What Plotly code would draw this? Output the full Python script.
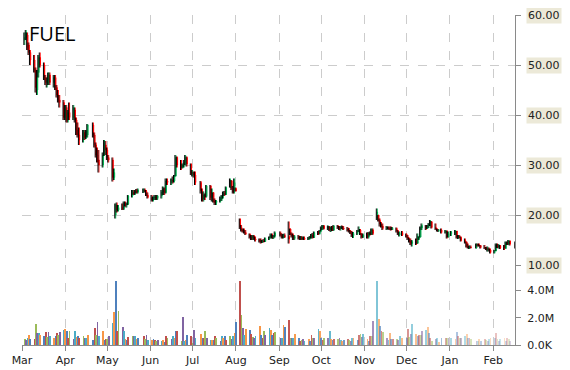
import pandas as pd
import plotly.graph_objects as go

ticker = "FUEL"
holidays = ["2014-04-18", "2014-05-26", "2014-07-04", "2014-09-01", "2014-11-27",
            "2014-12-25", "2015-01-01", "2015-01-19", "2015-02-16"]
dates = pd.bdate_range("2014-03-03", "2015-02-17", freq="C", holidays=holidays)

opens = [
    55, 55.5, 56, 54, 52.5, 51, 49, 45, 48.5, 51.5, 50, 47.5, 46.5, 47, 48, 46.5, 47.5, 45.5, 44, 43, 42.5,
    39.5, 41.5, 39, 40.5, 39.5, 41, 39, 37, 36, 35, 36.5, 35.5, 36, 38, 36, 34, 32, 31, 30, 32, 34,
    33, 31.5, 31, 27.5, 20, 22, 21, 21.5, 21.3, 22.3, 22, 22.2, 23.8, 24.5, 24.3, 24.8, 24.6, 24.7, 25, 24.7, 24,
    23.5, 23, 23.4, 23.6, 23.3, 23.8, 24.6, 25.2, 24.5, 26.8, 26.5, 27, 26.8, 27.8, 31.5, 30, 29.5, 30, 30.5, 31.5, 30.2,
    28.3, 28.5, 28, 26.5, 24.8, 23.2, 24, 23.7, 25.8, 23.5, 24.5, 22.8, 22.5, 22.8, 23.2, 23.8, 24.3, 24.1, 25.5, 26.8, 25.3, 25,
    25.3, 19.2, 17.5, 17, 16.8, 16.5, 16.2, 15.5, 15.4, 15.8, 15.2, 15, 14.8, 14.6, 14.8, 14.7, 15.3, 15.6, 16, 15.5, 15.8,
    16.4, 16, 15.5, 15.9, 15.7, 17.2, 16.2, 15.8, 15.3, 15.7, 15.3, 15.5, 15.2, 15.4, 15.1, 15.4, 15.6, 16, 15.5, 16.5, 16.3,
    16.8, 17.4, 17.8, 17.3, 17.6, 17, 17.5, 17, 17.8, 17.5, 17.3, 17.6, 17.4, 17.2, 17, 16.8, 16.4, 15.9, 16.3, 16.8, 17, 16.2, 15.6,
    16, 15.6, 16.4, 16.2, 17, 19.3, 20, 18.9, 18.2, 17.8, 17.3, 17.5, 17.3, 17.2, 17.1, 17.3, 16.8, 16, 16.5,
    16.2, 15.6, 15.3, 14.8, 14.3, 14.7, 14.4, 15.2, 15.6, 17.4, 17.9, 17.3, 17.8, 18.2, 18.6, 17.5, 17.2, 16.9, 17, 16.5, 16.8, 15.6,
    16.3, 16.5, 16.8, 15.5, 15.7, 15.5, 14.9, 14.6, 13.7, 13.5, 13.6, 13.4, 14.1, 14, 13.9, 13.5, 13.4, 13.1, 13.2, 13,
    12.5, 12.8, 14, 13.6, 13.9, 13.4, 13.3, 14.5, 14.3, 14.8, 14.4,
]
highs = [
    56.5, 57, 56.5, 54.5, 53, 52, 49.5, 49, 52, 52.5, 50.5, 48, 47.5, 48.5, 48.5, 48, 48, 46, 45, 44, 43,
    42, 42, 41, 42.5, 42, 41.5, 39.5, 38.5, 37.5, 37, 37, 37, 38.2, 38.5, 36.5, 34.5, 33.5, 33, 32.5, 35, 34.8,
    33.5, 32, 31.5, 29.3, 22.3, 22.5, 22, 22.3, 22.7, 22.7, 22.5, 24, 25, 25, 25, 25.2, 25.3, 25.3, 25.3, 25, 24.5,
    24, 23.7, 24, 24, 24, 25, 25.7, 25.5, 27.3, 27.3, 27.3, 27.7, 28, 32, 31.7, 31, 30.3, 31, 32, 31.7, 30.3,
    29, 28.7, 28.7, 26.8, 25.3, 24.7, 24.3, 26, 26, 25.3, 24.5, 23.3, 23, 23.7, 24, 24.7, 24.8, 25.7, 27.3, 27, 25.8, 27.3,
    25.5, 19.3, 18, 17.3, 17.3, 17, 16.3, 16, 16, 16, 15.7, 15.3, 15.3, 15, 15.2, 15.5, 15.7, 16.3, 16.3, 16, 16.7,
    16.7, 16.3, 16.2, 16.3, 18.7, 17.3, 16.5, 16.3, 16, 16, 15.8, 15.8, 15.7, 15.7, 15.6, 15.8, 16.2, 16.4, 16.7, 16.8, 17,
    17.7, 18, 18, 17.9, 17.8, 17.7, 17.8, 18, 18, 17.8, 17.8, 17.9, 17.8, 17.6, 17.4, 17, 16.8, 16.6, 17, 17.7, 17.2, 16.4, 16.3,
    16.5, 16.6, 16.7, 17.3, 17.3, 21.3, 20, 19.3, 18.6, 18.3, 17.8, 17.7, 17.7, 17.7, 17.6, 17.5, 17, 16.7, 16.8,
    16.3, 16, 15.5, 15.3, 15, 15.3, 16.3, 15.7, 17.7, 18.3, 18, 18, 18.4, 19, 18.8, 18.3, 17.3, 17.2, 17.3, 17, 16.9, 16.7,
    16.8, 17, 16.8, 16, 16, 15.7, 15.3, 14.7, 14.3, 13.9, 13.9, 14.3, 14.3, 14.3, 14, 14, 13.6, 13.7, 13.5, 13.3,
    13, 14.3, 14.3, 14.2, 14, 14, 14.7, 14.7, 15, 14.9, 14.7,
]
lows = [
    54, 55, 53, 52, 50, 48.5, 44.5, 44, 47.5, 49.5, 47, 46, 45.5, 46, 46, 45.5, 45, 43.5, 42.5, 41.5, 39,
    39, 38.5, 38.5, 39, 39, 38.5, 36, 35.5, 34, 34.5, 35, 35.2, 35.5, 35.5, 33.5, 31.5, 30.5, 28.5, 29.5, 31.8, 32,
    31, 30.5, 26.7, 27, 19.3, 20.5, 20.7, 21, 21, 21.7, 21.5, 22, 23.5, 24, 24, 24.3, 24.3, 24.4, 24.5, 23.8, 23.3,
    22.7, 22.7, 23, 23, 23, 23.3, 24, 24, 24.3, 26, 26, 26.3, 26.5, 27.7, 29.5, 29, 29.3, 29.5, 30, 29.7, 28,
    27.7, 27.5, 26, 24.3, 22.7, 22.7, 23, 23.5, 23, 22.7, 22.5, 22, 22, 22.5, 22.8, 23.3, 23.8, 24, 25.5, 25, 24.3, 24.3,
    24.7, 17.2, 16.7, 16.5, 16.3, 16, 15.3, 15, 15, 15, 14.7, 14.5, 14.3, 14.4, 14.5, 14.6, 15, 15.3, 15.3, 15.2, 15.5,
    15.7, 15.3, 15.3, 15.4, 14.3, 16, 15.5, 15, 15, 15.1, 15, 15, 15, 15, 15, 15.1, 15.3, 15.3, 15.4, 16, 16.1,
    16.7, 17, 17.1, 17, 16.8, 16.6, 16.8, 16.8, 17.2, 17, 16.9, 17.2, 17, 16.7, 16.5, 16.2, 15.6, 15.4, 16, 16.6, 16, 15.3, 15.4,
    15.3, 15.3, 15.9, 16, 16, 19, 18.7, 17.7, 17.5, 17, 17, 17.1, 17, 16.9, 17, 16.5, 16, 15.7, 15.8,
    15.5, 15, 14.5, 14, 13.7, 14, 14.2, 15, 15.5, 17, 17, 17.2, 17.4, 17.8, 17.3, 17, 16.7, 16.6, 16.3, 16.3, 15.3, 15.5,
    15.8, 16, 15.3, 15.2, 15.3, 14.7, 14.3, 13.5, 13.3, 13.2, 13.3, 13.3, 13.7, 13.7, 13.3, 13.2, 13, 12.7, 12.7, 12.3,
    12.3, 12.8, 13.4, 13.3, 13.2, 13, 13.3, 14, 14, 13.9, 13.3,
]
closes = [
    55.5, 56.5, 53.5, 52.5, 51, 49, 45.5, 48.5, 51.5, 50, 47.5, 46.5, 47, 48, 46.5, 47.5, 45.5, 44, 43, 42.5, 39.5,
    41.5, 39, 40.5, 39.5, 41.5, 39, 37, 36, 35, 36.5, 35.5, 36.8, 38, 36, 34, 32, 31, 30, 32, 34.5, 33,
    31.5, 31, 27.5, 28.5, 22, 21, 21.5, 21.3, 22.3, 22, 22.2, 23.8, 24.5, 24.3, 24.8, 24.6, 25, 25.1, 24.7, 24, 23.5,
    23, 23.4, 23.6, 23.3, 23.8, 24.6, 25.2, 24.5, 26.8, 26.5, 27, 26.8, 27.8, 31.5, 30, 29.5, 30, 30.5, 31.5, 30.2, 28.3,
    28.5, 28, 26.5, 24.8, 23.2, 24, 23.7, 25.8, 23.5, 24.5, 22.8, 22.5, 22.8, 23.2, 23.8, 24.3, 24.1, 25.5, 26.8, 25.3, 24.6, 26.5,
    24.8, 17.5, 17, 16.8, 16.5, 16.2, 15.5, 15.4, 15.8, 15.2, 15, 14.8, 14.6, 14.8, 14.7, 15.3, 15.6, 16, 15.5, 15.8, 16.4,
    16, 15.5, 15.9, 15.7, 15.2, 16.2, 15.8, 15.3, 15.7, 15.3, 15.5, 15.2, 15.4, 15.1, 15.4, 15.6, 16, 15.5, 16.5, 16.3, 16.8,
    17.4, 17.8, 17.3, 17.6, 17, 17.5, 17, 17.8, 17.5, 17.3, 17.6, 17.4, 17.2, 17, 16.8, 16.4, 15.9, 16.3, 16.8, 17, 16.2, 15.6, 16,
    15.6, 16.4, 16.2, 17, 16.3, 20.6, 18.9, 18.2, 17.8, 17.3, 17.5, 17.3, 17.2, 17.1, 17.3, 16.8, 16.2, 16.5, 16,
    15.6, 15.3, 14.8, 14.3, 14.7, 14.4, 15.8, 15.6, 17.4, 17.9, 17.3, 17.8, 18.2, 18.6, 17.5, 17.2, 16.9, 17, 16.5, 16.8, 15.6, 16.3,
    16.5, 16.8, 15.5, 15.7, 15.5, 14.9, 14.6, 13.7, 13.5, 13.6, 13.5, 14.1, 14, 13.9, 13.5, 13.4, 13.1, 13.2, 13, 12.5,
    12.8, 14, 13.6, 13.9, 13.4, 13.3, 14.5, 14.3, 14.8, 14.2, 13.6,
]
volumes_m = [
    0.45, 0.35, 0.5, 0.75, 0.45, 0.45, 1.55, 0.9, 0.85, 0.7, 0.68, 0.92, 0.6, 0.92, 0.63, 0.55, 0.63, 0.87, 0.7, 0.95, 1.1,
    1.16, 1.0, 0.55, 1.0, 0.44, 1.0, 0.58, 0.63, 0.5, 0.63, 0.55, 0.53, 0.75, 0.34, 1.26, 0.75, 1.72, 0.68, 1.0, 0.39, 0.45,
    0.44, 0.63, 1.6, 2.4, 4.68, 1.0, 2.5, 1.3, 1.0, 0.44, 0.39, 0.58, 0.63, 0.68, 0.63, 0.45, 0.5, 0.63, 0.44, 0.75, 0.39,
    0.39, 0.44, 0.34, 0.27, 0.34, 0.27, 0.39, 0.2, 0.63, 0.5, 0.44, 0.63, 0.55, 1.0, 1.0, 0.27, 2.08, 0.3, 0.39, 0.75, 0.63,
    0.15, 1.1, 0.5, 0.83, 0.5, 0.5, 1.0, 0.5, 0.39, 0.34, 0.34, 0.63, 0.5, 0.3, 0.63, 0.5, 0.63, 0.39, 0.63, 0.45, 0.63, 0.87,
    1.72, 4.68, 2.2, 1.24, 0.75, 1.16, 1.11, 0.83, 0.6, 0.5, 0.63, 1.4, 0.75, 0.55, 1.0, 0.75, 1.24, 1.11, 0.7, 0.87, 0.92,
    0.5, 0.55, 1.45, 1.36, 1.84, 0.55, 0.5, 0.55, 0.8, 0.55, 0.3, 0.39, 0.44, 0.3, 0.44, 0.3, 0.73, 0.55, 0.5, 1.16, 1.04,
    0.55, 0.35, 0.55, 0.55, 1.04, 0.44, 0.35, 0.44, 0.44, 0.5, 0.39, 0.3, 0.35, 0.44, 0.39, 0.3, 0.55, 0.55, 0.4, 0.73, 0.8, 0.6, 0.8,
    0.44, 0.3, 0.68, 0.68, 1.77, 4.73, 1.9, 1.4, 1.04, 0.92, 0.55, 0.4, 0.87, 0.44, 0.44, 0.44, 0.35, 0.68, 0.55,
    0.55, 1.16, 0.6, 0.8, 1.53, 0.8, 0.68, 0.73, 0.73, 1.04, 1.09, 1.36, 0.9, 0.5, 0.3, 0.44, 0.55, 0.2, 0.55, 0.55, 0.55, 0.5,
    0.55, 0.44, 0.92, 0.68, 0.55, 0.55, 0.68, 0.8, 0.48, 0.55, 0.44, 0.3, 0.3, 0.44, 0.3, 0.44, 0.35, 0.3, 0.44, 0.5,
    0.55, 0.87, 0.44, 0.3, 0.44, 0.55, 0.3, 0.55, 0.45, 0.3, 0.55,
]

month_ticks = ["2014-03-01", "2014-04-01", "2014-05-01", "2014-06-01", "2014-07-01", "2014-08-01",
               "2014-09-01", "2014-10-01", "2014-11-01", "2014-12-01", "2015-01-01", "2015-02-01"]
month_labels = ["Mar", "Apr", "May", "Jun", "Jul", "Aug", "Sep", "Oct", "Nov", "Dec", "Jan", "Feb"]
price_ticks = [10, 20, 30, 40, 50, 60]
price_labels = ["10.00", "20.00", "30.00", "40.00", "50.00", "60.00"]
vol_ticks = [0, 2, 4]
vol_labels = ["0.0K", "2.0M", "4.0M"]

n = len(dates)
assert len(opens) == n and len(highs) == n and len(lows) == n and len(closes) == n and len(volumes_m) == n, \
    (n, len(opens), len(highs), len(lows), len(closes), len(volumes_m))

palette = ["#4F81BD", "#C0504D", "#9BBB59", "#8064A2", "#4BACC6", "#F79646"]
bar_colors = [palette[(i + 2) % 6] for i in range(n)]
fade_start = pd.Timestamp("2014-09-01")
fade_end = dates[-1]
bar_opacity = []
for d in dates:
    if d < fade_start:
        bar_opacity.append(1.0)
    else:
        t = (d - fade_start) / (fade_end - fade_start)
        bar_opacity.append(1.0 - 0.72 * t)

GREEN = "#00B050"
RED = "#FF0000"
GRID = "#cccccc"
AXIS = "#8a8a8a"
FONT = "DejaVu Sans"
day_ms = 86400000
# black high-low wick drawn just left of the coloured body
wick_dates = dates - pd.Timedelta(hours=16)

fig = go.Figure()
fig.add_trace(go.Candlestick(
    x=dates, open=opens, high=highs, low=lows, close=closes,
    increasing=dict(line=dict(color=GREEN, width=1), fillcolor=GREEN),
    decreasing=dict(line=dict(color=RED, width=1), fillcolor=RED),
    whiskerwidth=0, showlegend=False, hoverinfo="skip", xaxis="x", yaxis="y"))
fig.add_trace(go.Ohlc(
    x=wick_dates, open=opens, high=highs, low=lows, close=closes,
    increasing=dict(line=dict(color="#000000", width=1)),
    decreasing=dict(line=dict(color="#000000", width=1)),
    tickwidth=0, showlegend=False, hoverinfo="skip", xaxis="x", yaxis="y"))
fig.add_trace(go.Bar(
    x=dates, y=volumes_m, width=day_ms * 0.6,
    marker=dict(color=bar_colors, opacity=bar_opacity, line=dict(width=0)),
    showlegend=False, hoverinfo="skip", xaxis="x", yaxis="y2"))

# page body has an 8px default margin; figure sized so the plot lands where the reference has it
split = 80 / 330
fig.update_layout(
    width=562, height=362,
    margin=dict(l=14, r=55, t=7, b=25, autoexpand=False),
    paper_bgcolor="white", plot_bgcolor="white",
    showlegend=False, bargap=0,
    font=dict(family=FONT, size=11, color="#222222"),
    xaxis=dict(
        type="date", range=["2014-03-01", "2015-02-16 12:00"],
        tickvals=month_ticks, ticktext=month_labels,
        showgrid=True, gridcolor=GRID, griddash="dash", gridwidth=1,
        showline=True, linecolor=AXIS, linewidth=1,
        ticks="outside", ticklen=5, tickcolor=AXIS,
        tickfont=dict(family=FONT, size=11, color="#222222"),
        anchor="y2", zeroline=False, rangeslider=dict(visible=False)),
    yaxis=dict(
        domain=[split, 1], range=[10, 60], side="right",
        tickvals=price_ticks, showticklabels=False,
        showgrid=True, gridcolor=GRID, griddash="dash", gridwidth=1,
        showline=True, linecolor=AXIS, linewidth=1,
        ticks="outside", ticklen=5, tickcolor=AXIS,
        zeroline=False, anchor="x"),
    yaxis2=dict(
        domain=[0, split], range=[0, 80 / 13.6], side="right",
        tickvals=vol_ticks, ticktext=vol_labels,
        showgrid=False, showline=True, linecolor=AXIS, linewidth=1,
        ticks="outside", ticklen=5, tickcolor=AXIS, ticklabelstandoff=4,
        tickfont=dict(family=FONT, size=11, color="#222222"),
        zeroline=False, anchor="x"),
)

for v, lab in zip(price_ticks, price_labels):
    fig.add_annotation(
        x=1, xref="paper", y=v, yref="y", text=lab, showarrow=False,
        xanchor="left", yanchor="middle", xshift=11,
        bgcolor="#ECE9D8", borderpad=1,
        font=dict(family=FONT, size=11, color="#222222"))

fig.add_annotation(
    x=0, xref="paper", y=1, yref="paper", text=ticker, showarrow=False,
    xanchor="left", yanchor="top", xshift=5, yshift=-3,
    font=dict(family="Open Sans", size=20, color="#000000"))

fig.write_html("out.html")
